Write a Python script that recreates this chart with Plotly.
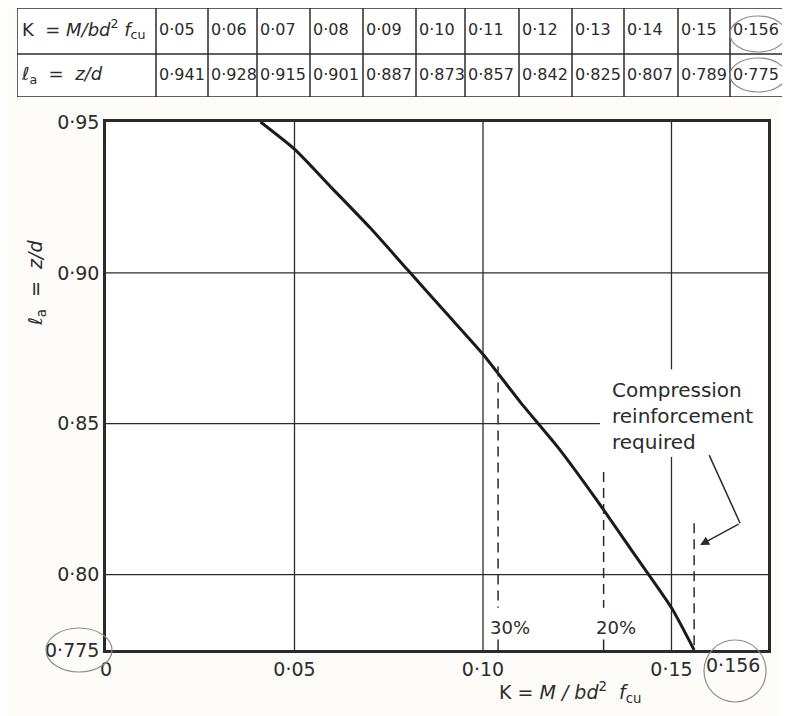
"""Lever-arm factor la = z/d against K = M/bd^2 fcu, with the design table above."""

import plotly.graph_objects as go

# table values
K_VALUES = [0.05, 0.06, 0.07, 0.08, 0.09, 0.10, 0.11, 0.12, 0.13, 0.14, 0.15, 0.156]
LA_VALUES = [0.941, 0.928, 0.915, 0.901, 0.887, 0.873, 0.857, 0.842, 0.825, 0.807, 0.789, 0.775]
TABLE_HEAD = ['K  = <i>M/bd</i><sup>2</sup> <i>f</i><sub>cu</sub>',
              'ℓ<sub>a</sub>  =  <i>z/d</i>']

# curve starts at the top edge of the chart
CURVE_K = [0.041] + K_VALUES
CURVE_LA = [0.95] + LA_VALUES

# moment redistribution limits (dashed lines)
REDIST_K = [0.104, 0.132, 0.156]
REDIST_TOP = [0.869, 0.834, 0.817]
REDIST_LABELS = ['30%', '20%', '']

X_TICKS = [0, 0.05, 0.10, 0.15]
Y_TICKS = [0.775, 0.80, 0.85, 0.90, 0.95]

# the page body adds an 8px margin, so pixel positions below are shifted by it
OFF = 8
W, H = 790 - OFF, 716 - OFF
INK = '#2b2b2b'
PENCIL = '#8c8c8c'
FONT = 'DejaVu Sans'


def dot(v, nd=None):
    s = f'{v:.{nd}f}' if nd is not None else f'{v:g}'
    return s.replace('.', '·')


def px(x):
    return min(max((x - OFF) / W, 0), 1)


def py(y):
    return min(max(1 - (y - OFF) / H, 0), 1)


fig = go.Figure()

# ---- design table, drawn on its own axes (x in pixels of column width, y in rows)
col_w = [139, 52, 49, 53, 53, 53, 49, 54, 53, 52, 54, 52, 53]
edges = [0]
for w in col_w:
    edges.append(edges[-1] + w)
row_h = [46, 43]
row_edges = [0, row_h[1], row_h[1] + row_h[0]]

for e in edges:
    fig.add_shape(type='line', xref='x2', yref='y2', x0=e, x1=e, y0=0, y1=row_edges[-1],
                  line=dict(color=INK, width=1.5))
for e in row_edges:
    fig.add_shape(type='line', xref='x2', yref='y2', x0=0, x1=edges[-1], y0=e, y1=e,
                  line=dict(color=INK, width=1.5))

k_text = [dot(k, 3 if k == 0.156 else 2) for k in K_VALUES]
la_text = [dot(v, 3) for v in LA_VALUES]
row_mid = [(row_edges[2] + row_edges[1]) / 2, (row_edges[1] + row_edges[0]) / 2]
for r, vals in enumerate([k_text, la_text]):
    fig.add_trace(go.Scatter(
        x=[edges[0] + 5] + [e + 3 for e in edges[1:-1]],
        y=[row_mid[r]] * (len(vals) + 1),
        text=[TABLE_HEAD[r]] + vals, mode='text', textposition='middle right',
        textfont=dict(family=FONT, size=[18] + [16] * len(vals), color=INK),
        xaxis='x2', yaxis='y2', showlegend=False, hoverinfo='skip',
    ))

# ---- grid segments (x0, x1, y0, y1)
GRID = [
    (0.05, 0.05, 0.775, 0.95),
    (0.10, 0.10, 0.775, 0.95),
    (0.15, 0.15, 0.775, 0.839),
    (0.15, 0.15, 0.868, 0.95),
    (0, 0.1756, 0.90, 0.90),
    (0, 0.131, 0.85, 0.85),
    (0, 0.1756, 0.80, 0.80),
]
for x0, x1, y0, y1 in GRID:
    fig.add_shape(type='line', x0=x0, x1=x1, y0=y0, y1=y1, xref='x', yref='y',
                  line=dict(color=INK, width=1.3), layer='below')

# main curve
fig.add_trace(go.Scatter(x=CURVE_K, y=CURVE_LA, mode='lines',
                         line=dict(color='#1a1a1a', width=3, shape='spline', smoothing=0.6),
                         showlegend=False, hoverinfo='skip'))

# redistribution dashed lines
for k, top, lab in zip(REDIST_K, REDIST_TOP, REDIST_LABELS):
    bottom = 0.789 if lab else 0.775
    fig.add_trace(go.Scatter(x=[k, k], y=[top, bottom], mode='lines',
                             line=dict(color=INK, width=1.5, dash='10px,6px'),
                             showlegend=False, hoverinfo='skip'))
    if lab:
        fig.add_trace(go.Scatter(x=[k, k], y=[0.7785, 0.775], mode='lines',
                                 line=dict(color=INK, width=1.5),
                                 showlegend=False, hoverinfo='skip'))
        fig.add_annotation(x=k, y=0.7825, text=lab, showarrow=False, xshift=12,
                           xanchor='center', yanchor='middle',
                           font=dict(family=FONT, size=18, color=INK))

# note and bent arrow
ARROW_PATH_K = [0.160, 0.1682]
ARROW_PATH_LA = [0.8396, 0.817]
ARROW_HEAD = (0.1576, 0.8098)
fig.add_trace(go.Scatter(x=ARROW_PATH_K, y=ARROW_PATH_LA, mode='lines',
                         line=dict(color=INK, width=1.5), showlegend=False,
                         hoverinfo='skip'))
fig.add_annotation(x=ARROW_HEAD[0], y=ARROW_HEAD[1], ax=ARROW_PATH_K[1],
                   ay=ARROW_PATH_LA[1], axref='x', ayref='y', text='',
                   showarrow=True, arrowhead=2, arrowsize=1.2, arrowwidth=1.5,
                   arrowcolor=INK)
fig.add_annotation(x=px(610), y=py(376), xref='paper', yref='paper',
                   xanchor='left', yanchor='top', align='left', showarrow=False,
                   text='Compression<br>reinforcement<br>required',
                   font=dict(family=FONT, size=20, color=INK))

# axis titles as free text
fig.add_annotation(x=px(36), y=py(283), xref='paper', yref='paper',
                   xanchor='center', yanchor='middle',
                   text='ℓ<sub>a</sub>  =  <i>z/d</i>', textangle=-90,
                   showarrow=False, font=dict(family=FONT, size=19, color=INK))
fig.add_annotation(x=px(570), y=py(692), xref='paper', yref='paper',
                   xanchor='center', yanchor='middle',
                   text='K = <i>M / bd</i><sup>2</sup>  <i>f</i><sub>cu</sub>',
                   showarrow=False, font=dict(family=FONT, size=19, color=INK))

# 0.156 tick label and pencil circles
fig.add_annotation(x=px(733), y=py(665), xref='paper', yref='paper',
                   xanchor='center', yanchor='middle',
                   text=dot(0.156), showarrow=False,
                   font=dict(family=FONT, size=19, color=INK))
CIRCLES = [(46, 628, 112, 672), (704, 640, 766, 702),
           (730, 16, 786, 52), (730, 58, 786, 92)]
for x0, y0, x1, y1 in CIRCLES:
    fig.add_shape(type='circle', xref='paper', yref='paper',
                  x0=px(x0), x1=px(x1), y0=py(y1), y1=py(y0),
                  line=dict(color=PENCIL, width=1.2))

fig.update_xaxes(
    domain=[px(106), px(768)], range=[0, 0.1756],
    tickvals=X_TICKS, ticktext=['0'] + [dot(v, 2) for v in X_TICKS[1:]],
    showgrid=False, zeroline=False, showline=True, mirror=True,
    linecolor=INK, linewidth=2.5, ticks='', automargin=False,
    tickfont=dict(family=FONT, size=19, color=INK),
)
fig.update_yaxes(
    domain=[py(650), py(122)], range=[0.775, 0.95],
    tickvals=Y_TICKS, ticktext=[dot(v, 3) if v == 0.775 else dot(v, 2) for v in Y_TICKS],
    showgrid=False, zeroline=False, showline=True, mirror=True,
    linecolor=INK, linewidth=2.5, ticks='', automargin=False,
    tickfont=dict(family=FONT, size=19, color=INK),
)
fig.update_layout(
    width=W, height=H, margin=dict(l=0, r=0, t=0, b=0),
    plot_bgcolor='white', paper_bgcolor='#fdfcf8', showlegend=False,
    xaxis2=dict(domain=[px(17), px(17 + edges[-1])], range=[0, edges[-1]],
                visible=False, anchor='y2', fixedrange=True),
    yaxis2=dict(domain=[py(8 + row_edges[-1]), py(8)], range=[0, row_edges[-1]],
                visible=False, anchor='x2', fixedrange=True),
)

fig.write_html('out.html')
